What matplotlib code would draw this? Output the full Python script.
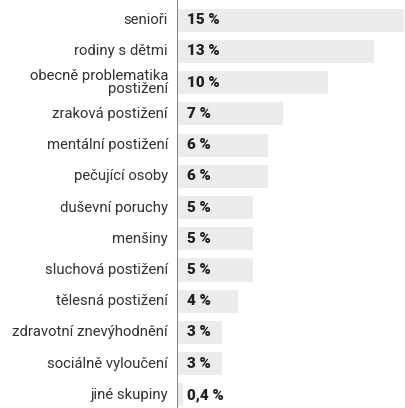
import matplotlib
matplotlib.use("Agg")
import matplotlib.pyplot as plt

categories = [
    "senioři", "rodiny s dětmi", "obecně problematika\npostižení",
    "zraková postižení", "mentální postižení", "pečující osoby",
    "duševní poruchy", "menšiny", "sluchová postižení",
    "tělesná postižení", "zdravotní znevýhodnění", "sociálně vyloučení",
    "jiné skupiny",
]
values = [15, 13, 10, 7, 6, 6, 5, 5, 5, 4, 3, 3, 0.4]
value_labels = ["15 %", "13 %", "10 %", "7 %", "6 %", "6 %", "5 %", "5 %",
                "5 %", "4 %", "3 %", "3 %", "0,4 %"]

plt.rcParams["font.family"] = ["Roboto", "DejaVu Sans"]

W, H = 406, 408
fig = plt.figure(figsize=(W / 100, H / 100), dpi=100)
ax = fig.add_axes([177 / W, 0, (W - 177) / W, 1])

ypos = list(range(len(categories)))
ax.barh(ypos, values, height=0.74, color="#ececec", left=0)

for y, lab, vl in zip(ypos, categories, value_labels):
    ax.text(-0.6, y, lab, ha="right", va="center", fontsize=10.7,
            color="#333333", linespacing=0.95)
    ax.text(0.65, y, vl, ha="left", va="center", fontsize=11,
            fontweight="black", color="#222222")

ax.set_xlim(0, 15 * 229 / 227)
ax.set_ylim(12.42, -0.645)
ax.axis("off")
ax.axvline(0, color="#888888", lw=1.5)

fig.savefig("out.png", dpi=100)
